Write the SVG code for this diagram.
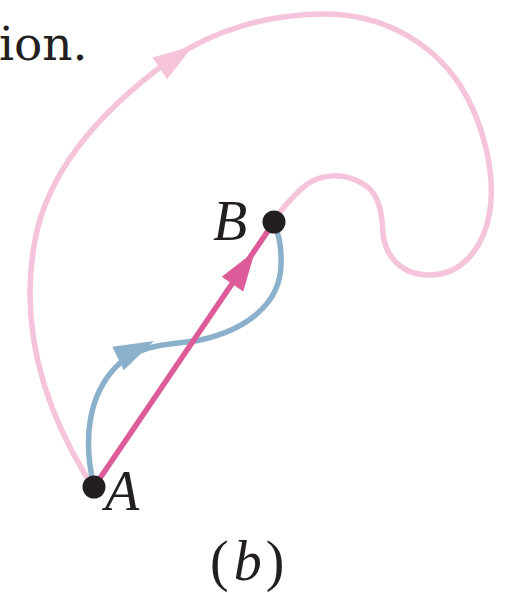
<svg xmlns="http://www.w3.org/2000/svg" width="510" height="593" viewBox="0 0 510 593">
<style>
.pink{fill:none;stroke:#f5c3da;stroke-width:5.5;stroke-linecap:round}
.blue{fill:none;stroke:#8ab0cb;stroke-width:5.5;stroke-linecap:round}
.mag{fill:none;stroke:#dc5b98;stroke-width:5.5;stroke-linecap:round}
.dot{fill:#231f20}
.lbl{font-family:"Liberation Serif","Times New Roman",serif;font-style:italic;fill:#231f20}
.txt{font-family:"DejaVu Serif","Liberation Serif",serif;fill:#231f20}
.cap{font-family:"Liberation Serif","Times New Roman",serif;fill:#231f20}
</style>
<defs>
<path id="ah" d="M0,0 L-40,-13 L-40,13 Z"/>
</defs>
<text class="txt" x="-1" y="60" font-size="47">ion.</text>
<g id="connectors">
<path id="pinkPath" class="pink" d="M86,476 C40,400 20,320 35,240 C50,160 115,100 170,60 C215,29 270,14 325,14 C380,14 430,40 460,85 C485,125 495,175 490,210 C484,250 460,275 430,275 C400,275 385,255 383,233 C382,215 380,195 365,185 C345,172 318,172 300,190 C290,200 280,210 274,222"/>
<use href="#ah" fill="#f5c3da" transform="translate(193,46) rotate(-34)"/>
<path id="bluePath" class="blue" d="M94,487 C84,445 85,395 120,363 C145,342 175,345 200,340 C245,330 280,305 281,265 C282,245 278,232 274,222"/>
<use href="#ah" fill="#8ab0cb" transform="translate(154,341) rotate(-26)"/>
<path id="magPath" class="mag" d="M94,487 L274,222"/>
<use href="#ah" fill="#dc5b98" transform="translate(255,251) rotate(-55.8)"/>
</g>
<g id="nodeA">
<circle class="dot" cx="94" cy="487" r="11.5"/>
<text class="lbl" x="105" y="510" font-size="56">A</text>
</g>
<g id="nodeB">
<circle class="dot" cx="274" cy="222" r="11.5"/>
<text class="lbl" x="213" y="240" font-size="56">B</text>
</g>
<g id="caption">
<text class="cap" x="210" y="580" font-size="56">(<tspan font-style="italic" dx="5">b</tspan><tspan dx="4">)</tspan></text>
</g>
</svg>
